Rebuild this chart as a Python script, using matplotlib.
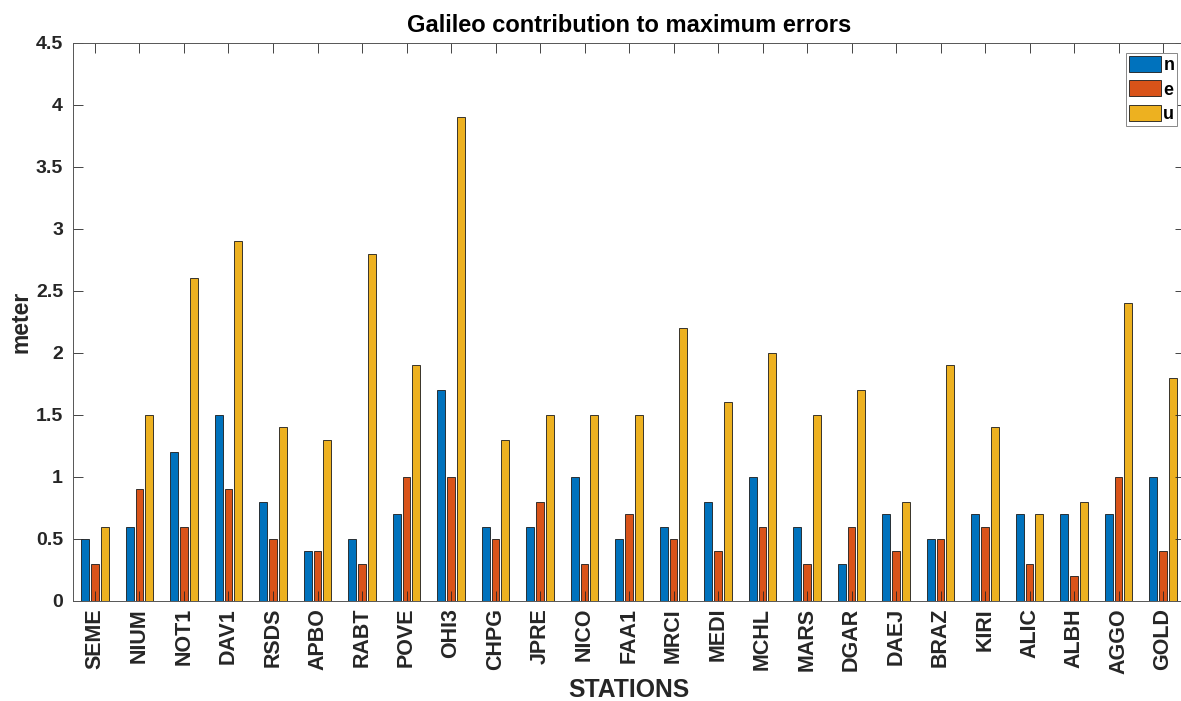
import matplotlib
matplotlib.use('Agg')
import matplotlib.pyplot as plt
import numpy as np

# Datos
estaciones = ['SEME', 'NIUM', 'NOT1', 'DAV1', 'RSDS', 'APBO', 'RABT', 'POVE', 'OHI3',
              'CHPG', 'JPRE', 'NICO', 'FAA1', 'MRCI', 'MEDI', 'MCHL', 'MARS', 'DGAR',
              'DAEJ', 'BRAZ', 'KIRI', 'ALIC', 'ALBH', 'AGGO', 'GOLD']
n = [0.5, 0.6, 1.2, 1.5, 0.8, 0.4, 0.5, 0.7, 1.7, 0.6, 0.6, 1.0, 0.5, 0.6, 0.8,
     1.0, 0.6, 0.3, 0.7, 0.5, 0.7, 0.7, 0.7, 0.7, 1.0]
e = [0.3, 0.9, 0.6, 0.9, 0.5, 0.4, 0.3, 1.0, 1.0, 0.5, 0.8, 0.3, 0.7, 0.5, 0.4,
     0.6, 0.3, 0.6, 0.4, 0.5, 0.6, 0.3, 0.2, 1.0, 0.4]
u = [0.6, 1.5, 2.6, 2.9, 1.4, 1.3, 2.8, 1.9, 3.9, 1.3, 1.5, 1.5, 1.5, 2.2, 1.6,
     2.0, 1.5, 1.7, 0.8, 1.9, 1.4, 0.7, 0.8, 2.4, 1.8]
yticks = [0, 0.5, 1, 1.5, 2, 2.5, 3, 3.5, 4, 4.5]
ytick_labels = ['0', '0.5', '1', '1.5', '2', '2.5', '3', '3.5', '4', '4.5']

plt.rcParams['font.family'] = ['Liberation Sans', 'DejaVu Sans']
plt.rcParams['font.weight'] = 'bold'

fig = plt.figure(figsize=(11.81, 7.01), dpi=100)
ax = fig.add_axes([0.0616, 0.1427, 0.9420, 0.7964])

x = np.arange(1, len(estaciones) + 1)
paso = 0.222
ancho = 0.178
colores = ['#0072BD', '#D95319', '#EDB120']
series = [(n, 'n'), (e, 'e'), (u, 'u')]
for i, (vals, nombre) in enumerate(series):
    ax.bar(x + (i - 1) * paso, vals, ancho, color=colores[i], edgecolor='#1a1a1a',
           linewidth=0.6, label=nombre)

ax.set_xlim(0.5, 25.5)
ax.set_ylim(0, 4.5)
ax.set_xticks(x)
ax.set_xticklabels(estaciones, rotation=90, fontsize=15.5, fontweight='bold', color='#262626')
ax.set_yticks(yticks)
ax.set_yticklabels(ytick_labels, fontsize=14, fontweight='bold', color='#262626')
ax.tick_params(direction='in', length=7, width=0.6, color='#262626',
               top=True, right=True)
ax.tick_params(axis='y', pad=7)
ax.tick_params(axis='x', pad=5)

for s in ax.spines.values():
    s.set_color('#555555')
    s.set_linewidth(0.7)

ax.set_title('Galileo contribution to maximum errors', fontsize=17, fontweight='bold', pad=8)
ax.set_xlabel('STATIONS', fontsize=17.8, fontweight='bold', color='#262626', labelpad=3)
ax.set_ylabel('meter', fontsize=16.5, fontweight='bold', color='#262626', labelpad=2)

leg = ax.legend(loc='upper right', bbox_to_anchor=(1177 / 1181, 1 - 53 / 701),
                bbox_transform=fig.transFigure, borderaxespad=0,
                prop={'weight': 'bold', 'size': 13},
                handlelength=1.75, handleheight=1.0, handletextpad=0.15,
                labelspacing=0.35, borderpad=0.15, fancybox=False,
                edgecolor='#888888', framealpha=1)
leg.get_frame().set_linewidth(0.7)

fig.savefig('out.png', dpi=100)
